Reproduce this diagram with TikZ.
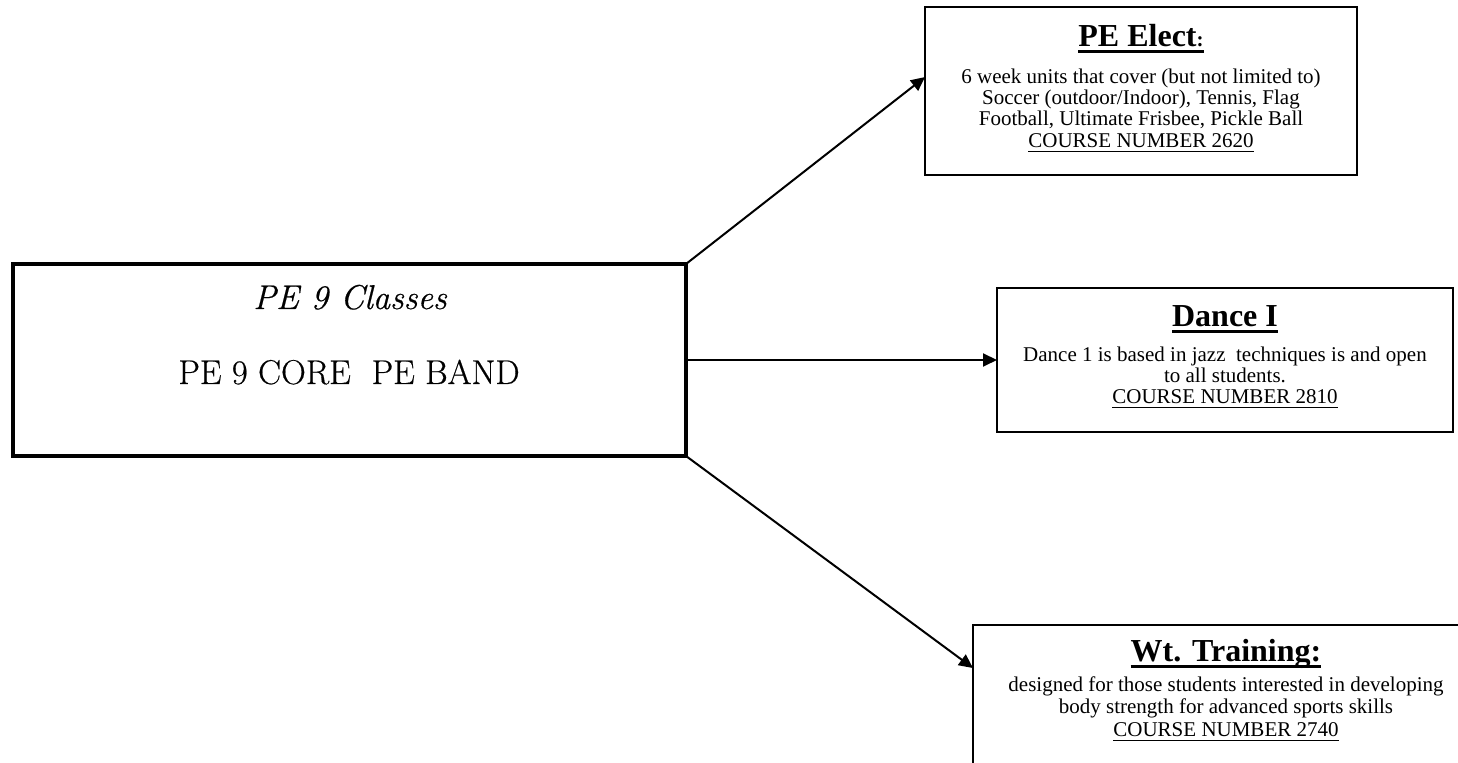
\documentclass[tikz,border=0pt]{standalone}
\usepackage{fontspec}
\newfontfamily\tnr{Liberation Serif}
\newfontfamily\mainfnt[FakeBold=0.5]{Latin Modern Roman}
\usetikzlibrary{arrows.meta,calc}
\newcommand{\myuline}[3]{\setbox0\hbox{#3}\rlap{\rule[-#1]{\wd0}{#2}}\box0}
\begin{document}
\begin{tikzpicture}[x=0.5pt,y=-0.5pt,
  box/.style={draw, rectangle, inner sep=0pt, outer sep=0pt, line width=1.3pt},
  mainbox/.style={box, line width=2.3pt},
  conn/.style={line width=1pt, -{Triangle[length=7pt,width=6.5pt]}},
  body/.style={font=\tnr\fontsize{10.5}{12}\selectfont, anchor=base, inner sep=0pt},
  ttl/.style={font=\tnr\bfseries\fontsize{16}{18}\selectfont, anchor=base, inner sep=0pt},
  maintxt/.style={font=\mainfnt\fontsize{17.2}{20}\selectfont, anchor=base, inner sep=0pt}]
\useasboundingbox (0,0) rectangle (1458,763);
\clip (0,0) rectangle (1458,763);

% boxes
\node[mainbox, minimum width=336.5pt, minimum height=96pt] (main) at (349.5,360) {};
\node[box, minimum width=216pt, minimum height=84pt] (elect) at (1141,91) {};
\node[box, minimum width=228pt, minimum height=72pt] (dance) at (1225,360) {};
\node[box, minimum width=253.5pt, minimum height=87.5pt] (wt) at (1226.5,712.5) {};

% main texts
\node[maintxt, font=\mainfnt\itshape\fontsize{17.2}{20}\selectfont] (mt1) at (350,309) {PE 9 Classes};
\node[maintxt] (mt2) at (349,384) {PE 9 CORE\ \ PE BAND};

% PE Elect
\node[ttl] (et) at (1141,47) {\myuline{3pt}{1.3pt}{PE Elect{\fontsize{10.5}{12}\selectfont:}}};
\node[body] (e1) at (1141,84) {6 week units that cover (but not limited to)};
\node[body] (e2) at (1141,105) {Soccer (outdoor/Indoor), Tennis, Flag};
\node[body] (e3) at (1141,126) {Football, Ultimate Frisbee, Pickle Ball};
\node[body] (e4) at (1141,148) {\myuline{2pt}{0.5pt}{COURSE NUMBER 2620}};

% Dance
\node[ttl] (dt) at (1225,327) {\myuline{3pt}{1.3pt}{Dance I}};
\node[body] (d1) at (1225,362) {Dance 1 is based in jazz\ \ techniques is and open};
\node[body] (d2) at (1225,383) {to all students.};
\node[body] (d3) at (1225,404) {\myuline{2pt}{0.5pt}{COURSE NUMBER 2810}};

% Wt Training
\node[ttl] (wtt) at (1226,662) {\myuline{3pt}{1.3pt}{Wt. Training:}};
\node[body] (w1) at (1226,692) {designed for those students interested in developing};
\node[body] (w2) at (1226,714) {body strength for advanced sports skills};
\node[body] (w3) at (1226,737) {\myuline{2pt}{0.5pt}{COURSE NUMBER 2740}};

% connectors
\draw[conn] (main.north east) -- ($(elect.north west)!0.417!(elect.south west)$);
\draw[conn] (main.east) -- (dance.west);
\draw[conn] (main.south east) -- ($(wt.north west)!0.246!(wt.south west)$);
\end{tikzpicture}
\end{document}
